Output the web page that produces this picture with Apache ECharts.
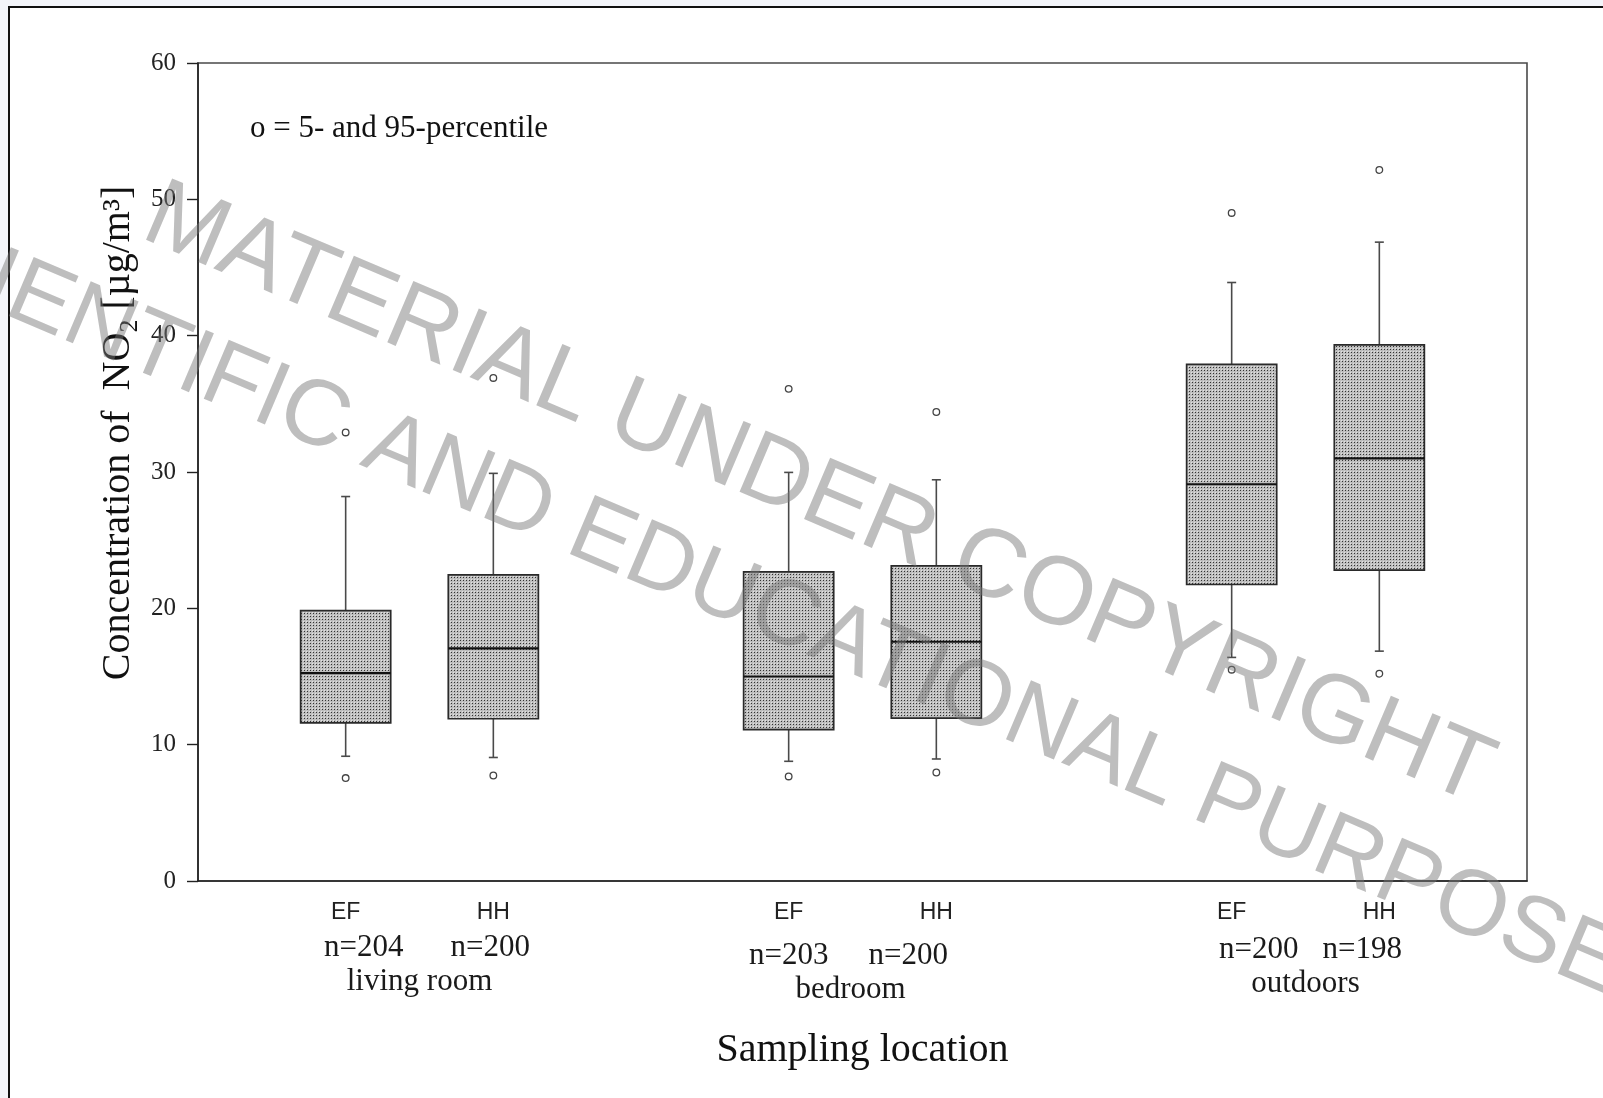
<!DOCTYPE html>
<html>
<head>
<meta charset="utf-8">
<title>NO2 concentration by sampling location</title>
<script src="https://cdn.jsdelivr.net/npm/echarts@6/dist/echarts.min.js"></script>
<style>
  html, body { margin: 0; padding: 0; background: #ffffff; }
  #chart { width: 1603px; height: 1098px; }
</style>
</head>
<body>
<div id="chart"></div>
<script>
// Sampling locations and the two measurement methods at each
const locations = ['living room', 'bedroom', 'outdoors'];
const methods = ['EF', 'HH', 'EF', 'HH', 'EF', 'HH'];
const locationOf = [0, 0, 1, 1, 2, 2];
const sampleSizes = [204, 200, 203, 200, 200, 198];
// slot of each box along the x axis (gaps separate the locations)
const slots = [1, 2, 4, 5, 7, 8];

// NO2 statistics, µg/m³
const p5  = [7.55, 7.74, 7.67, 7.96, 15.5, 15.2];
const p10 = [9.15, 9.06, 8.78, 8.95, 16.4, 16.86];
const q1  = [11.6, 11.9, 11.1, 11.95, 21.75, 22.8];
const med = [15.25, 17.06, 15.0, 17.55, 29.1, 31.0];
const q3  = [19.83, 22.46, 22.68, 23.12, 37.9, 39.33];
const p90 = [28.2, 29.9, 29.97, 29.43, 43.9, 46.86];
const p95 = [32.9, 36.9, 36.1, 34.4, 49.0, 52.15];

const yTicks = { min: 0, max: 60, step: 10 };

const SERIF = '"Liberation Serif", "Times New Roman", serif';
const SANS = '"Liberation Sans", Arial, sans-serif';

// fine dotted screen used to fill the boxes
function dotScreen() {
  const c = document.createElement('canvas');
  c.width = 3; c.height = 3;
  const g = c.getContext('2d');
  g.fillStyle = '#bebebe';
  g.fillRect(0, 0, 3, 3);
  g.fillStyle = '#e2e2e2';
  g.fillRect(0, 0, 1, 1);
  g.fillStyle = '#333333';
  g.fillRect(1, 1, 1, 1);
  return c;
}
const screenFill = { image: dotScreen(), repeat: 'repeat' };

const boxData = slots.map((s, i) => [s, p5[i], p10[i], q1[i], med[i], q3[i], p90[i], p95[i]]);

function renderBox(params, api) {
  const x = api.value(0);
  const at = v => api.coord([x, v]);
  const halfW = api.size([0.61, 0])[0] / 2;
  const cap = 4.5;
  const [cx, yP5] = at(api.value(1));
  const yP10 = at(api.value(2))[1];
  const yQ1 = at(api.value(3))[1];
  const yMed = at(api.value(4))[1];
  const yQ3 = at(api.value(5))[1];
  const yP90 = at(api.value(6))[1];
  const yP95 = at(api.value(7))[1];
  const whisker = { stroke: '#4a4a4a', lineWidth: 1.6 };
  const ring = { fill: '#ffffff', stroke: '#444', lineWidth: 1.3 };
  return {
    type: 'group',
    children: [
      { type: 'line', shape: { x1: cx, y1: yQ3, x2: cx, y2: yP90 }, style: whisker },
      { type: 'line', shape: { x1: cx - cap, y1: yP90, x2: cx + cap, y2: yP90 }, style: whisker },
      { type: 'line', shape: { x1: cx, y1: yQ1, x2: cx, y2: yP10 }, style: whisker },
      { type: 'line', shape: { x1: cx - cap, y1: yP10, x2: cx + cap, y2: yP10 }, style: whisker },
      { type: 'rect', shape: { x: cx - halfW, y: yQ3, width: 2 * halfW, height: yQ1 - yQ3 },
        style: { fill: screenFill, stroke: '#2a2a2a', lineWidth: 1.7 } },
      { type: 'line', shape: { x1: cx - halfW, y1: yMed, x2: cx + halfW, y2: yMed },
        style: { stroke: '#111', lineWidth: 2.2 } },
      { type: 'circle', shape: { cx: cx, cy: yP95, r: 3.3 }, style: ring },
      { type: 'circle', shape: { cx: cx, cy: yP5, r: 3.3 }, style: ring }
    ]
  };
}

const chart = echarts.init(document.getElementById('chart'), null, { renderer: 'canvas' });

chart.setOption({
  backgroundColor: '#ffffff',
  animation: false,
  grid: {
    left: 198, right: 76, top: 63, bottom: 217,
    show: true, borderColor: '#4a4a4a', borderWidth: 1.6, backgroundColor: 'transparent'
  },
  xAxis: {
    type: 'value', min: 0, max: 9,
    axisLine: { show: true, lineStyle: { color: '#222', width: 1.6 } },
    axisTick: { show: false },
    axisLabel: { show: false },
    splitLine: { show: false }
  },
  yAxis: {
    type: 'value', min: yTicks.min, max: yTicks.max, interval: yTicks.step,
    axisLine: { show: true, lineStyle: { color: '#222', width: 1.6 } },
    axisTick: { show: true, inside: false, length: 11, lineStyle: { color: '#222', width: 1.4 } },
    axisLabel: { margin: 22, color: '#222', fontFamily: SERIF, fontSize: 25 },
    splitLine: { show: false }
  },
  series: [{
    type: 'custom',
    name: 'NO2',
    renderItem: renderBox,
    data: boxData,
    clip: false,
    z: 3
  }]
});

// Text below the plot, placed under each box through the x axis
const px = slots.map(s => chart.convertToPixel({ xAxisIndex: 0 }, s));
const rowShift = [0, 8, 2];
const nShift = [18, -3, 0, -28, 27, -17];
const groupShift = [0, -12, 0];
const elements = [];

// page margin and frame
elements.push(
  { type: 'rect', z: -10, silent: true, shape: { x: 0, y: 0, width: 1603, height: 7 }, style: { fill: '#f3f5fa' } },
  { type: 'rect', z: -10, silent: true, shape: { x: 0, y: 0, width: 9, height: 1098 }, style: { fill: '#f3f5fa' } },
  { type: 'rect', z: 50, silent: true, shape: { x: 9, y: 7, width: 1620, height: 1120 },
    style: { fill: 'none', stroke: '#111', lineWidth: 2 } }
);

methods.forEach((m, i) => {
  elements.push({
    type: 'text', x: px[i], y: 913,
    style: { text: m, font: '23px ' + SANS, fill: '#222', align: 'center', verticalAlign: 'middle' }
  });
  elements.push({
    type: 'text', x: px[i] + nShift[i], y: 948 + rowShift[locationOf[i]],
    style: { text: 'n=' + sampleSizes[i], font: '31px ' + SERIF, fill: '#1a1a1a', align: 'center', verticalAlign: 'middle' }
  });
});

locations.forEach((loc, g) => {
  const idx = locationOf.map((v, i) => v === g ? i : -1).filter(i => i >= 0);
  const mid = (px[idx[0]] + px[idx[1]]) / 2;
  elements.push({
    type: 'text', x: mid + groupShift[g], y: 982 + rowShift[g],
    style: { text: loc, font: '31px ' + SERIF, fill: '#1a1a1a', align: 'center', verticalAlign: 'middle' }
  });
});

// axis titles
elements.push({
  type: 'text', x: (px[2] + px[3]) / 2, y: 1050,
  style: { text: 'Sampling location', font: '40px ' + SERIF, fill: '#111', align: 'center', verticalAlign: 'middle' }
});
elements.push({
  type: 'text', x: 118, y: 433, rotation: Math.PI / 2,
  style: {
    text: '{a|Concentration of  NO}{s|2}{a| [µg/m³]}',
    align: 'center', verticalAlign: 'middle',
    rich: {
      a: { fontFamily: SERIF, fontSize: 40, fill: '#111', lineHeight: 50, verticalAlign: 'middle' },
      s: { fontFamily: SERIF, fontSize: 26, fill: '#111', lineHeight: 50, verticalAlign: 'bottom' }
    }
  }
});

// key for the circle markers
elements.push({
  type: 'text', x: 250, y: 129,
  style: { text: 'o = 5- and 95-percentile', font: '31px ' + SERIF, fill: '#111', align: 'left', verticalAlign: 'middle' }
});

// copyright overlay
const wmAngle = -23 * Math.PI / 180;
const wmFill = 'rgba(120,120,120,0.48)';
elements.push(
  { type: 'text', z: 100, silent: true, x: 818, y: 496, rotation: wmAngle,
    style: { text: 'MATERIAL UNDER COPYRIGHT', font: '97px ' + SANS, fill: wmFill, align: 'center', verticalAlign: 'middle' } },
  { type: 'text', z: 100, silent: true, x: 772, y: 612, rotation: wmAngle,
    style: { text: 'SCIENTIFIC AND EDUCATIONAL PURPOSES', font: '93px ' + SANS, fill: wmFill, align: 'center', verticalAlign: 'middle' } }
);

chart.setOption({ graphic: { elements: elements } });
</script>
</body>
</html>
